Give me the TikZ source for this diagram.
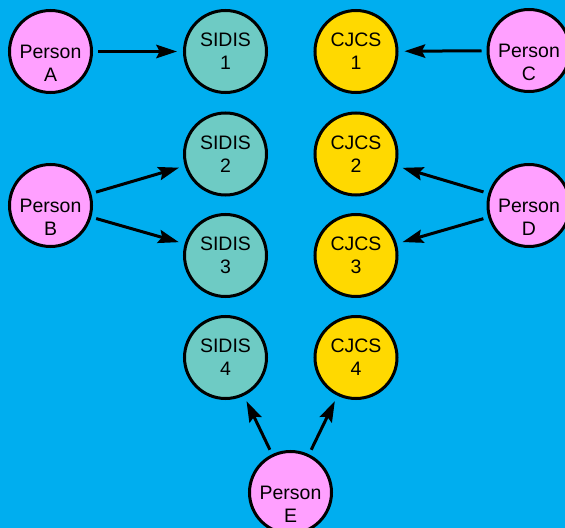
\documentclass[tikz,border=0pt]{standalone}
\usepackage{fontspec}
\setmainfont{Liberation Sans}
\usetikzlibrary{arrows.meta}
\definecolor{bgblue}{RGB}{0,174,239}
\definecolor{personfill}{RGB}{255,160,255}
\definecolor{sidisfill}{RGB}{110,203,196}
\definecolor{cjcsfill}{RGB}{255,217,0}
\begin{document}
\begin{tikzpicture}[x=0.75pt,y=-0.75pt,->,>={Stealth[length=15.5pt,width=10pt,inset=2.5pt]},
                    shorten >=4.5pt,shorten <=3.75pt,line width=2.25pt]
\tikzstyle{every node}=[font=\fontsize{14.6}{17.3}\selectfont,align=center]
\tikzstyle{round}=[circle,draw=black,minimum size=61.5pt,inner sep=1pt]
\tikzstyle{person}=[round,fill=personfill]
\tikzstyle{sidis}=[round,fill=sidisfill]
\tikzstyle{cjcs}=[round,fill=cjcsfill]
\tikzstyle{who}=[yshift=-8.6pt]
\useasboundingbox (0,0) rectangle (565,528);
\fill[bgblue] (0,0) rectangle (565,528);

\node[person,label={[who]center:{Person\\A}}] (pA) at (50.5,51.5) {};
\node[person,label={[who]center:{Person\\B}}] (pB) at (50.5,205.5) {};
\node[person,label={[who]center:{Person\\C}}] (pC) at (529,50.5) {};
\node[person,label={[who]center:{Person\\D}}] (pD) at (529,205.5) {};
\node[person,label={[who]center:{Person\\E}}] (pE) at (290.5,492.5) {};

\node[sidis] (s1) at (225.5,51.5) {SIDIS\\1};
\node[sidis] (s2) at (225.5,154) {SIDIS\\2};
\node[sidis] (s3) at (225.5,255.5) {SIDIS\\3};
\node[sidis] (s4) at (225.5,357.5) {SIDIS\\4};

\node[cjcs] (c1) at (356,51.5) {CJCS\\1};
\node[cjcs] (c2) at (356,154) {CJCS\\2};
\node[cjcs] (c3) at (356,255.5) {CJCS\\3};
\node[cjcs] (c4) at (356,357.5) {CJCS\\4};

\path (pA) edge (s1)
      (pB) edge (s2) edge (s3)
      (pC) edge (c1)
      (pD) edge (c2) edge (c3)
      (pE) edge (s4) edge (c4);
\end{tikzpicture}
\end{document}
